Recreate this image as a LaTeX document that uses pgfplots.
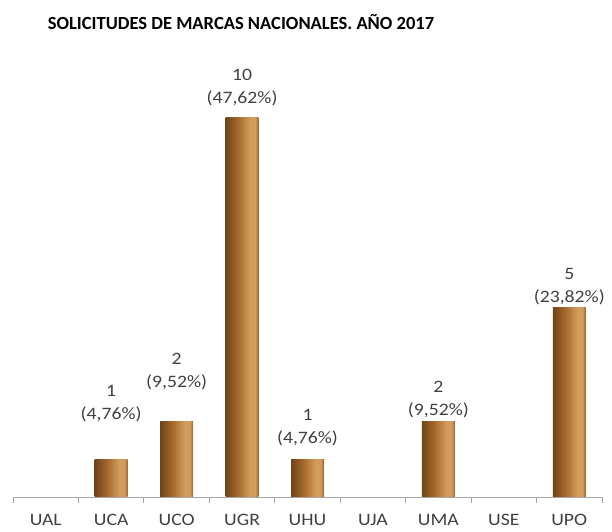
\documentclass[border=0pt]{standalone}
\usepackage{pgfplots}
\pgfplotsset{compat=1.18}
\usepackage{fontspec}
\setmainfont{Carlito}
\newfontfamily\stretchfont[FakeStretch=1.13]{Carlito}
\definecolor{bdark}{HTML}{6E4418}
\definecolor{bmid}{HTML}{A86C2E}
\definecolor{blight}{HTML}{D29C5C}
\definecolor{bright}{HTML}{9A6530}
\definecolor{labgray}{HTML}{404040}
\pgfdeclarehorizontalshading{bargrad}{100bp}{
  color(0bp)=(bdark); color(25bp)=(bdark); color(45bp)=(bmid); color(62bp)=(blight);
  color(70bp)=(blight); color(75bp)=(bright); color(100bp)=(bright)}
\begin{document}
\begin{tikzpicture}
\path[use as bounding box] (0,0) rectangle (612bp,532bp);
\node[font=\fontsize{18.6}{21}\selectfont\bfseries, text=black] at (241bp,510bp) {SOLICITUDES DE MARCAS NACIONALES. AÑO 2017};
\begin{axis}[
  at={(13bp,35bp)}, anchor=south west,
  scale only axis,
  width=589bp, height=455bp,
  xmin=-0.5, xmax=8.5,
  ymin=0, ymax=12,
  axis x line*=bottom,
  axis y line=none,
  x axis line style={draw=gray!70, line width=0.8pt, -},
  xtick={-0.5,0.5,...,8.5},
  x tick label as interval,
  xticklabels={UAL,UCA,UCO,UGR,UHU,UJA,UMA,USE,UPO},
  major tick length=6bp,
  tick align=outside,
  xtick style={draw=gray!70, line width=0.8pt},
  xticklabel style={font=\stretchfont\fontsize{17.5}{20}\selectfont, text=labgray, yshift=-8bp},
  ybar, bar width=33bp, bar shift=0pt,
  nodes near coords={\pgfplotspointmeta},
  point meta=explicit symbolic,
  every node near coord/.append style={font=\stretchfont\fontsize{17.5}{23}\selectfont, text=labgray, align=center, inner sep=2bp, anchor=south},
  clip=false,
]
\addplot[draw=none, shading=bargrad, every node near coord/.append style={yshift=35bp}] coordinates {(1,1) [{1\\(4,76\%)}]};
\addplot[draw=none, shading=bargrad, every node near coord/.append style={yshift=29bp}] coordinates {(2,2) [{2\\(9,52\%)}]};
\addplot[draw=none, shading=bargrad, every node near coord/.append style={yshift=10bp}] coordinates {(3,10) [{10\\(47,62\%)}]};
\addplot[draw=none, shading=bargrad, every node near coord/.append style={yshift=11bp}] coordinates {(4,1) [{1\\(4,76\%)}]};
\addplot[draw=none, shading=bargrad, every node near coord/.append style={yshift=1bp}] coordinates {(6,2) [{2\\(9,52\%)}]};
\addplot[draw=none, shading=bargrad] coordinates {(8,5) [{5\\(23,82\%)}]};
\end{axis}
\end{tikzpicture}
\end{document}
